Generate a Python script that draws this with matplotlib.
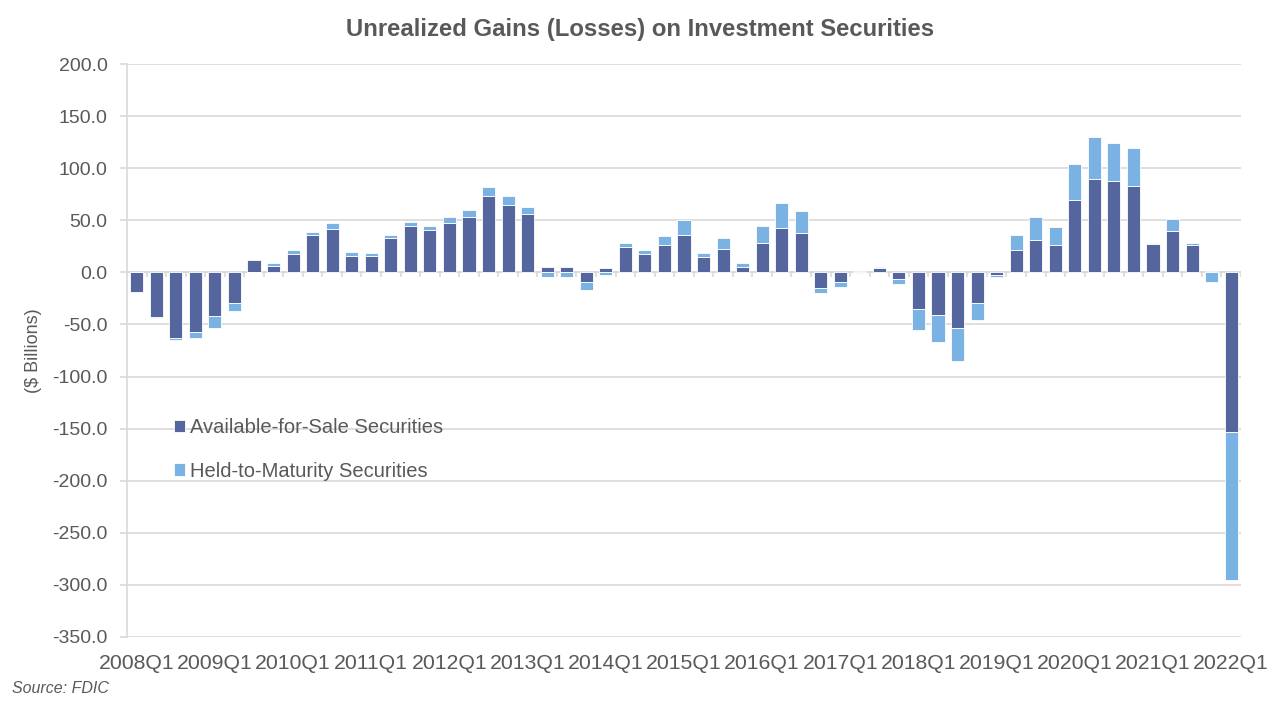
#!/usr/bin/env python3
"""Unrealized gains (losses) on investment securities, stacked quarterly bars"""

### imports
import matplotlib
matplotlib.use("Agg")
import matplotlib.pyplot as plt
import numpy as np

### data ($ billions), 2008Q1 .. 2022Q1
quarters = [f"{y}Q{q}" for y in range(2008, 2023) for q in range(1, 5)][:57]
afs = [-19, -43, -63, -57, -42, -29, 12, 6, 18, 36, 42, 16, 16, 33, 44.5,
       40.5, 47, 53, 73, 65, 56, 5, 5, -9, 4, 24, 18, 26, 36, 15,
       22, 5, 28.5, 42.5, 38, -15, -9, 1.5, 4, -6, -35, -41, -53, -29, -2.5,
       21.5, 31, 26, 69, 90, 87.5, 83, 27.5, 40, 26, 1.5, -153]
htm = [0, -1, -2, -6, -11, -8, 0, 3, 3, 3, 5, 3.5, 3, 3, 3.5,
       4, 6, 7, 9, 8, 7, -4, -4, -8, -3, 4.5, 3, 9, 14, 4,
       11, 4, 16, 24.5, 21, -5, -5, -0.5, 1.5, -5, -20, -26, -32, -17, -1.5,
       14, 22, 18, 35, 40, 37, 36, 1, 11, 2.5, -9.5, -142]

### style
DARK = "#55669F"
LIGHT = "#7AB2E3"
TXT = "#595959"
GRID = "#D9D9D9"
FONT = ["Liberation Sans", "DejaVu Sans"]

plt.rcParams["font.family"] = FONT


def main():
    """draw the chart and save it"""
    a = np.array(afs, dtype=float)
    h = np.array(htm, dtype=float)
    x = np.arange(len(quarters))
    # stack held-to-maturity on the same side as the AFS part
    base = np.where(np.sign(h) == np.sign(a), a, 0.0)

    fig = plt.figure(figsize=(12.8, 7.09), dpi=100)
    ax = fig.add_axes([0.0992, 0.1016, 0.8703, 0.8081])

    ax.bar(x, a, width=0.67, color=DARK, edgecolor="white", linewidth=0.6,
           label="Available-for-Sale Securities", zorder=3)
    ax.bar(x, h, bottom=base, width=0.67, color=LIGHT, edgecolor="white",
           linewidth=0.6, label="Held-to-Maturity Securities", zorder=3)

    ax.set_xlim(-0.5, len(quarters) - 0.5)
    ax.set_ylim(-350, 200)
    ax.set_yticks(np.arange(-350, 201, 50))
    ax.yaxis.set_major_formatter(matplotlib.ticker.FormatStrFormatter("%.1f"))
    ax.grid(axis="y", color=GRID, linewidth=1.2, zorder=0)
    ax.set_xticks(x[::4])
    ax.set_xticklabels(quarters[::4])
    ax.tick_params(axis="x", length=0, labelsize=15.3, colors=TXT, pad=12)
    ax.tick_params(axis="y", length=5, width=1.2, color=GRID,
                   labelsize=14, labelcolor=TXT, pad=9)

    for s in ["top", "right", "bottom"]:
        ax.spines[s].set_visible(False)
    ax.spines["left"].set_color(GRID)
    ax.spines["left"].set_linewidth(1.2)

    # category axis at zero with small tick marks between quarters
    ax.axhline(0, color=GRID, linewidth=1.2, zorder=2)
    ax.vlines(np.arange(len(quarters) + 1) - 0.5, -4, 0, color=GRID,
              linewidth=1.2, zorder=2)

    ax.set_ylabel("($ Billions)", fontsize=13, color=TXT, labelpad=7)
    fig.text(0.5, 0.959, "Unrealized Gains (Losses) on Investment Securities",
             fontsize=17.2, fontweight="bold", color=TXT, ha="center",
             va="center")

    leg = ax.legend(loc="upper left", bbox_to_anchor=(0.026, 0.413),
                    frameon=False, fontsize=14.5, handlelength=0.55,
                    handleheight=0.55, handletextpad=0.25, labelspacing=1.2)
    for t in leg.get_texts():
        t.set_color(TXT)

    fig.text(0.009, 0.022, "Source: FDIC", fontsize=11.5, style="italic",
             color=TXT)

    fig.savefig("out.png", dpi=100)
    plt.close(fig)
    return 0


if __name__ == "__main__":
    main()
